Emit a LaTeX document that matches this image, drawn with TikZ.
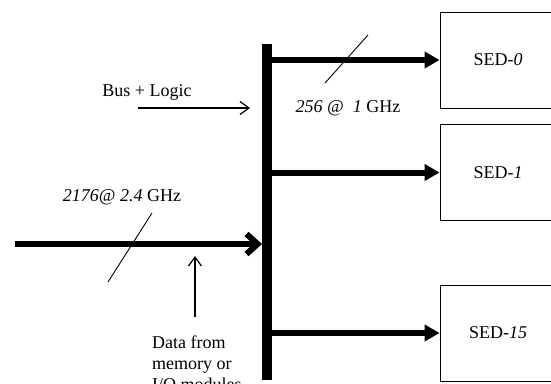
\documentclass[tikz,border=0pt]{standalone}
\usepackage{fontspec}
\setmainfont{Liberation Serif}
\usetikzlibrary{arrows.meta,positioning}

\tikzset{
  sedbox/.style={draw, line width=0.8pt, minimum width=116pt, minimum height=96pt, inner sep=0pt},
  fatarrow/.style={line width=6pt, -{Triangle[length=15pt,width=16pt]}},
  inarrow/.style={line width=6pt, -{Straight Barb[length=11pt,width=20pt]}},
  thinarrow/.style={line width=1.2pt, -{Straight Barb[length=9pt,width=13pt]}},
  slash/.style={line width=0.9pt},
}

\begin{document}
\begin{tikzpicture}[x=1pt, y=-1pt, font=\fontsize{18}{21}\selectfont]
    \useasboundingbox (0,0) rectangle (551,383);
    %bus verticale
    \coordinate (bustop) at (267,44);
    \coordinate (busbot) at (267,380);
    \draw[line width=10pt] (bustop) -- (busbot);

    %blocchi SED
    \node[sedbox] (sed0) at (498,60) {SED-\textit{0}};
    \node[sedbox] (sed1) at (498,172.5) {SED-\textit{1}};
    \node[sedbox] (sed15) at (498,333) {SED-\textit{15}};

    %frecce verso i SED
    \draw[fatarrow] (bustop |- sed0) -- (sed0.west);
    \draw[fatarrow] (bustop |- sed1) -- (sed1.west);
    \draw[fatarrow] (bustop |- sed15) -- (sed15.west);

    %ingresso dati
    \coordinate (instart) at (15,244);
    \coordinate (inend) at (262,244);
    \draw[inarrow] (instart) -- (inend);

    %barrette di larghezza bus
    \draw[slash] (325,83) -- (368,35);
    \draw[slash] (108,282) -- (152,213);

    %label
    \node (lbl256) at (348,108) {\textit{256 @ \ 1} GHz};
    \node (lbl2176) at (122,197) {\textit{2176@ 2.4} GHz};
    \node (buslogic) at (147,92) {Bus + Logic};
    \node[align=left, anchor=north west, inner sep=0pt] (data) at (152,336) {Data from\\memory or\\I/O modules};

    %freccie sottili
    \coordinate (blstart) at (138,108);
    \coordinate (blend) at (250,108);
    \draw[thinarrow] (blstart) -- (blend);
    \coordinate (upstart) at (195,317);
    \coordinate (upend) at (195,256);
    \draw[thinarrow] (upstart) -- (upend);
\end{tikzpicture}
\end{document}
